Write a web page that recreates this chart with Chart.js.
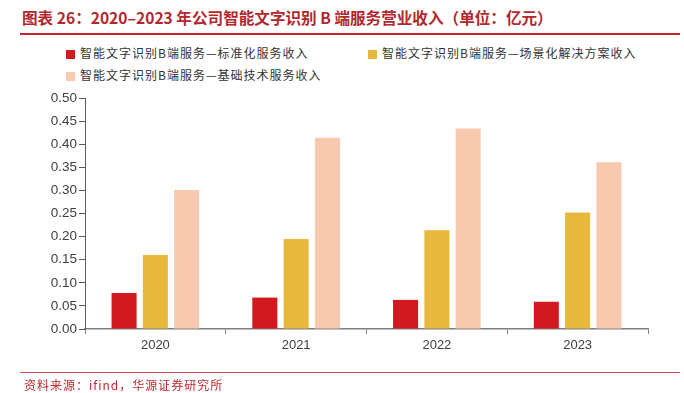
<!DOCTYPE html>
<html>
<head>
<meta charset="utf-8">
<script src="https://cdn.jsdelivr.net/npm/chart.js@4/dist/chart.umd.min.js"></script>
<style>
  html, body { margin: 0; padding: 0; background: #fff; }
  #wrap { position: relative; width: 684px; height: 393px; overflow: hidden; }
  #title {
    position: absolute; left: 22px; top: 6px;
    font: bold 15.6px "Noto Sans CJK SC", sans-serif; color: #b2282d; white-space: nowrap;
  }
  #topline { position: absolute; left: 20px; top: 33px; width: 660px; height: 2px; background: #c0282e; }
  #botline { position: absolute; left: 20px; top: 372px; width: 660px; height: 1px; background: #d04a4e; }
  #source {
    position: absolute; left: 24px; top: 376px;
    font: 12px "Noto Sans CJK SC", sans-serif; color: #c0282e; letter-spacing: 1px; white-space: nowrap;
  }
  .leg {
    position: absolute; font: 12px "Noto Sans CJK SC", sans-serif; color: #333;
    letter-spacing: 1px; white-space: nowrap; line-height: 14px;
  }
  .leg i { display: inline-block; width: 9px; height: 9px; margin-right: 5px; vertical-align: -1px; }
  canvas { position: absolute; left: 0; top: 0; }
</style>
</head>
<body>
<div id="wrap">
  <div id="title">图表 26：2020–2023 年公司智能文字识别 B 端服务营业收入（单位：亿元）</div>
  <div id="topline"></div>
  <div id="legend"></div>
  <canvas id="c" width="684" height="393"></canvas>
  <div id="botline"></div>
  <div id="source">资料来源：ifind，华源证券研究所</div>
</div>
<script>
const years = ["2020", "2021", "2022", "2023"];
const seriesNames = [
  "智能文字识别B端服务—标准化服务收入",
  "智能文字识别B端服务—场景化解决方案收入",
  "智能文字识别B端服务—基础技术服务收入"
];
const standardRevenue = [0.078, 0.068, 0.063, 0.059];
const sceneRevenue = [0.160, 0.195, 0.214, 0.252];
const baseRevenue = [0.301, 0.414, 0.434, 0.361];
const colors = ["#d2191f", "#e8b83c", "#f7c9ae"];
const legendPos = [[66, 46], [368, 46], [66, 68]];

const values = [standardRevenue, sceneRevenue, baseRevenue];

// html legend
const leg = document.getElementById("legend");
seriesNames.forEach((name, i) => {
    const d = document.createElement("div");
    d.className = "leg";
    d.style.left = legendPos[i][0] + "px";
    d.style.top = legendPos[i][1] + "px";
    d.innerHTML = '<i style="background:' + colors[i] + '"></i>' + name;
    leg.appendChild(d);
});

new Chart(document.getElementById("c"), {
    type: "bar",
    data: {
        labels: years,
        datasets: values.map((v, i) => ({
            label: seriesNames[i],
            data: v,
            backgroundColor: colors[i],
            categoryPercentage: 0.667,
            barPercentage: 0.8
        }))
    },
    options: {
        responsive: false,
        animation: false,
        layout: { padding: { left: 25, right: 36, top: 98, bottom: 44 } },
        plugins: { legend: { display: false }, tooltip: { enabled: false } },
        scales: {
            x: {
                afterFit: s => { s.height = 20; },
                border: { color: "#7f7f7f", width: 1.5 },
                grid: { drawOnChartArea: false, drawTicks: true, tickLength: 5, color: "#7f7f7f" },
                ticks: { color: "#404040", padding: 4, font: { family: "Liberation Sans Narrow, Liberation Sans", size: 13 } }
            },
            y: {
                min: 0, max: 0.5,
                afterFit: s => { s.width = 60; },
                border: { color: "#595959", width: 1 },
                grid: { drawOnChartArea: false, drawTicks: true, tickLength: 6, color: "#595959" },
                ticks: {
                    stepSize: 0.05, color: "#404040", padding: 2,
                    font: { family: "Liberation Sans", size: 13.5 },
                    callback: v => v.toFixed(2)
                }
            }
        }
    }
});
</script>
</body>
</html>
